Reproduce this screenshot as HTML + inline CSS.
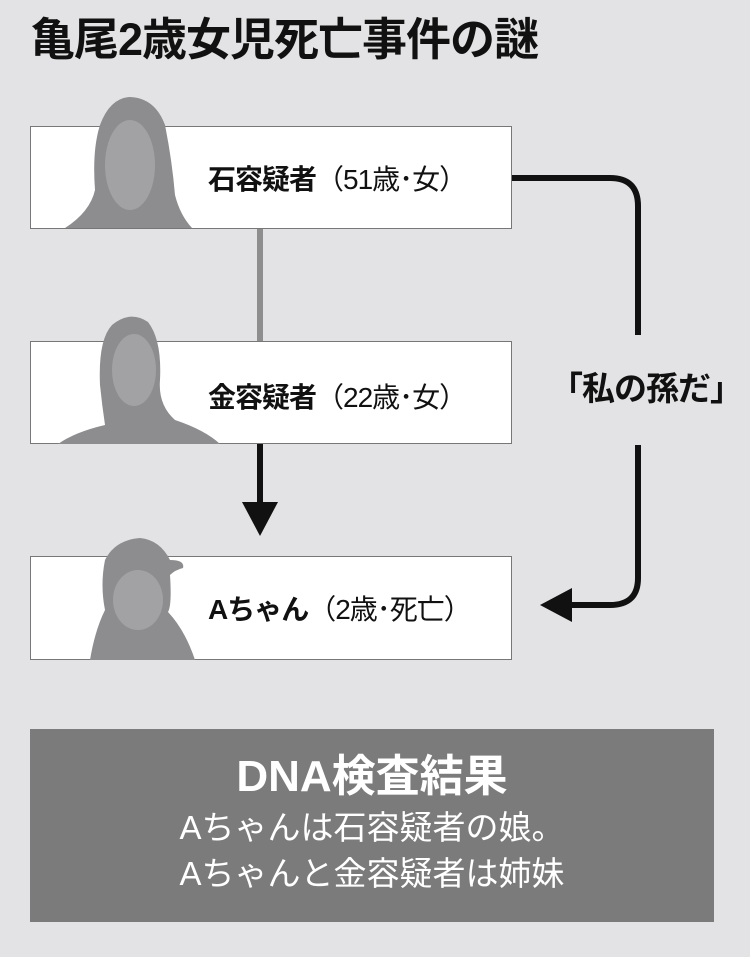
<!DOCTYPE html>
<html><head><meta charset="utf-8"><style>
body{margin:0;width:750px;height:957px;background:#e3e3e5;position:relative;overflow:hidden;font-family:"Liberation Sans","Noto Sans CJK JP",sans-serif}
.t{position:absolute;left:30px;top:12px;font-size:45px;line-height:56px;font-weight:bold;color:#111;letter-spacing:-1px;white-space:nowrap}
.box{position:absolute;left:30px;width:482px;background:#fff;border:1px solid #777;box-sizing:border-box}
.lab{position:absolute;left:208px;font-size:28px;line-height:36px;color:#111;white-space:nowrap;letter-spacing:-1px}
.lab b{font-weight:bold}
.dna{position:absolute;left:30px;top:729px;width:684px;height:193px;background:#7b7b7c;color:#fff;text-align:center}
</style></head><body>
<div class="t">亀尾2歳女児死亡事件の謎</div>
<svg width="750" height="957" style="position:absolute;left:0;top:0">
<rect x="257" y="228" width="6" height="114" fill="#8e8e8e"/>
<rect x="257" y="444" width="6" height="60" fill="#111"/>
<polygon points="242,502 278,502 260,536" fill="#111"/>
<path d="M512 178 H610 Q638 178 638 206 V335" stroke="#111" stroke-width="6" fill="none"/>
<path d="M638 445 V578 Q638 605 610 605 H570" stroke="#111" stroke-width="6" fill="none"/>
<polygon points="540,605 572,588 572,622" fill="#111"/>
</svg>
<div class="box" style="top:126px;height:103px"></div>
<div class="box" style="top:341px;height:103px"></div>
<div class="box" style="top:556px;height:104px"></div>
<svg width="750" height="957" style="position:absolute;left:0;top:0">
<path d="M65 228 Q90 212 95 190 Q92 150 100 125 Q110 98 130 97 Q155 98 165 125 Q172 160 175 195 Q180 215 192 228 Z" fill="#8d8d8f"/>
<ellipse cx="130" cy="165" rx="25" ry="45" fill="#a2a2a4"/>
<path d="M58 444 Q75 432 105 425 Q102 405 100 385 Q98 340 112 325 Q130 310 148 322 Q162 340 160 380 Q158 405 175 420 Q205 430 220 444 Z" fill="#8d8d8f"/>
<ellipse cx="134" cy="370" rx="22" ry="36" fill="#a2a2a4"/>
<path d="M90 660 Q95 630 105 610 Q100 585 105 560 Q115 540 140 538 Q160 540 170 560 Q185 560 183 568 Q175 570 170 575 Q172 605 168 612 Q185 630 195 660 Z" fill="#8d8d8f"/>
<ellipse cx="138" cy="600" rx="25" ry="30" fill="#a2a2a4"/>
</svg>
<div class="lab" style="top:162px"><b>石容疑者</b>（51歳･女）</div>
<div class="lab" style="top:380px"><b>金容疑者</b>（22歳･女）</div>
<div class="lab" style="top:592px"><b>Aちゃん</b>（2歳･死亡）</div>
<div style="position:absolute;left:550px;top:368px;font-size:33px;line-height:42px;font-weight:bold;color:#111;white-space:nowrap;letter-spacing:-1px">「私の孫だ」</div>
<div class="dna">
<div style="font-size:44px;font-weight:bold;margin-top:20px;line-height:56px">DNA検査結果</div>
<div style="font-size:33px;line-height:46px;margin-top:0px">Aちゃんは石容疑者の娘。<br>Aちゃんと金容疑者は姉妹</div>
</div>
</body></html>
